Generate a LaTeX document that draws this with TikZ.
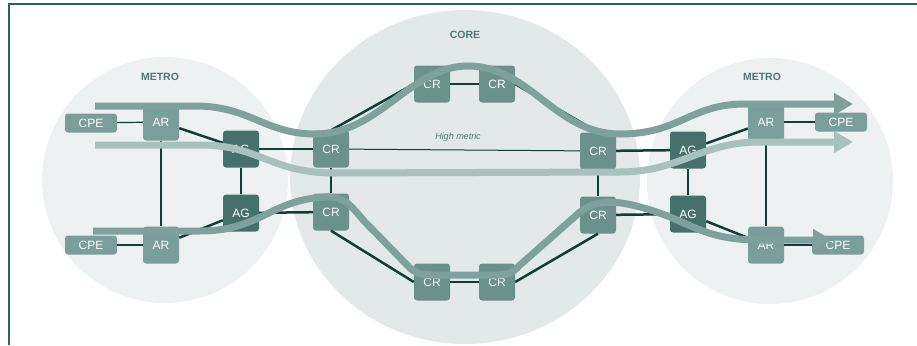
\documentclass[tikz,border=0pt]{standalone}
\usepackage{fontspec}
\setmainfont{Liberation Sans}
\usetikzlibrary{arrows.meta}
\definecolor{metrofill}{HTML}{EEF1F1}
\definecolor{corefill}{HTML}{E2E9E8}
\definecolor{argray}{HTML}{7A9F9A}
\definecolor{crgray}{HTML}{6B918B}
\definecolor{agdark}{HTML}{46716A}
\definecolor{linkdark}{HTML}{0D3F37}
\definecolor{flowmid}{HTML}{7EA19B}
\definecolor{flowlight}{HTML}{A7C1BD}
\definecolor{framegreen}{HTML}{2E6259}
\definecolor{labelgreen}{HTML}{4A7A73}

\tikzset{
  router/.style = {rectangle, rounded corners = 3pt, fill = argray, text = white,
    minimum width = 36pt, minimum height = 37pt, inner sep = 0pt,
    font = \fontsize{12}{12}\selectfont},
  corer/.style = {router, fill = crgray},
  aggr/.style = {router, fill = agdark},
  cpebox/.style = {router, minimum width = 52pt, minimum height = 19pt},
  link/.style = {draw = linkdark, line width = 2.5pt},
  thinlink/.style = {draw = linkdark, line width = 1.2pt},
  flow/.style = {line width = 7pt, -{Triangle[length = 19pt, width = 21pt]}},
  area/.style = {font = \fontsize{10.5}{11}\selectfont\bfseries, text = labelgreen}
}

\begin{document}
\begin{tikzpicture}[x = 1pt, y = -1pt]
\useasboundingbox (0,0) rectangle (917,345);

%%%%%%%%%%%%%%% areas %%%%%%%%%%%%%%%%
\fill [metrofill] (165,180) circle [radius = 123];
\fill [metrofill] (770,181) circle [radius = 123];
\fill [corefill] (465,177) ellipse (175 and 167);
\draw [framegreen, line width = 1.5pt] (9,345) -- (9,4) -- (917,4);
\node [area] (metrol) at (160,77) {METRO};
\node [area] (metror) at (762,77) {METRO};
\node [area] (core) at (465,35) {CORE};

%%%%%%%%%%%%%%% left metro %%%%%%%%%%%%%%%%
\node [cpebox] (cpelt) at (91,123) {CPE};
\node [cpebox] (cpelb) at (91,245) {CPE};
\node [router] (arlt) at (161,122) {AR};
\node [router] (arlb) at (161,245) {AR};
\node [aggr] (aglt) at (241,149) {AG};
\node [aggr] (aglb) at (241,213) {AG};

%%%%%%%%%%%%%%% core %%%%%%%%%%%%%%%%
\node [corer] (crlt) at (331,149) {CR};
\node [corer] (crlb) at (331,212) {CR};
\node [corer] (crt1) at (432,84) {CR};
\node [corer] (crt2) at (497,84) {CR};
\node [corer] (crb1) at (432,282) {CR};
\node [corer] (crb2) at (497,282) {CR};
\node [corer] (crrt) at (598,151) {CR};
\node [corer] (crrb) at (598,215) {CR};
\node [text = labelgreen, font = \fontsize{9}{9}\selectfont\itshape] (hm) at (458,137) {High metric};

%%%%%%%%%%%%%%% right metro %%%%%%%%%%%%%%%%
\node [aggr] (agrt) at (688,150) {AG};
\node [aggr] (agrb) at (688,214) {AG};
\node [router] (arrt) at (766,122) {AR};
\node [router] (arrb) at (766,245) {AR};
\node [cpebox] (cpert) at (841,122) {CPE};
\node [cpebox] (cperb) at (838,245) {CPE};

%%%%%%%%%%%%%%% links %%%%%%%%%%%%%%%%
\draw [thinlink] (cpelt) -- (arlt);
\draw [thinlink] (cpelb) -- (arlb);
\draw [link] (arlt) -- (arlb);
\draw [link] (arlt) -- (aglt);
\draw [link] (arlb) -- (aglb);
\draw [link] (aglt) -- (aglb);
\draw [link] (aglt) -- (crlt);
\draw [link] (aglb) -- (crlb);
\draw [link] (crlt) -- (crlb);
\draw [link] (crlt.north) -- (crt1.west);
\draw [link] (crt1) -- (crt2);
\draw [link] (crt2.east) -- (crrt.north);
\draw [link] (crlb.south) -- (crb1.west);
\draw [link] (crb1) -- (crb2);
\draw [link] (crb2.east) -- (crrb.south);
\draw [thinlink, line width = 1pt] (crlt) -- (crrt);
\draw [link] (crrt) -- (crrb);
\draw [link] (crrt) -- (agrt);
\draw [link] (crrb) -- (agrb);
\draw [link] (agrt) -- (agrb);
\draw [link] (agrt) -- (arrt);
\draw [link] (agrb) -- (arrb);
\draw [link] (arrt) -- (arrb);
\draw [thinlink] (arrt) -- (cpert);
\draw [thinlink] (arrb) -- (cperb);

%%%%%%%%%%%%%%% flows %%%%%%%%%%%%%%%%
\coordinate (f1s) at (95,106);
\coordinate (f1e) at (853,104);
\coordinate (f2s) at (95,145);
\coordinate (f2e) at (853,142);
\coordinate (f3s) at (93,231);
\coordinate (f3e) at (832,240);

\draw [flow, flowmid] (f1s) -- (195,106) .. controls (250,106) and (265,134) .. (315,134)
  .. controls (380,134) and (410,66) .. (468,66)
  .. controls (530,66) and (555,134) .. (620,134)
  .. controls (680,134) and (690,104) .. (745,104) -- (f1e);
\draw [flow, flowlight] (f2s) -- (200,145) .. controls (260,145) and (270,173) .. (335,173)
  -- (620,172) .. controls (680,172) and (700,142) .. (760,142) -- (f2e);
\draw [flow, flowmid] (f3s) -- (200,231) .. controls (260,231) and (270,200) .. (325,197)
  .. controls (345,196) and (350,205) .. (365,222) -- (410,268)
  .. controls (418,275) and (425,275) .. (432,275) -- (497,275)
  .. controls (505,275) and (512,274) .. (520,265) -- (580,212)
  .. controls (595,200) and (615,200) .. (640,207)
  .. controls (690,220) and (700,240) .. (760,240) -- (f3e);

\end{tikzpicture}
\end{document}
